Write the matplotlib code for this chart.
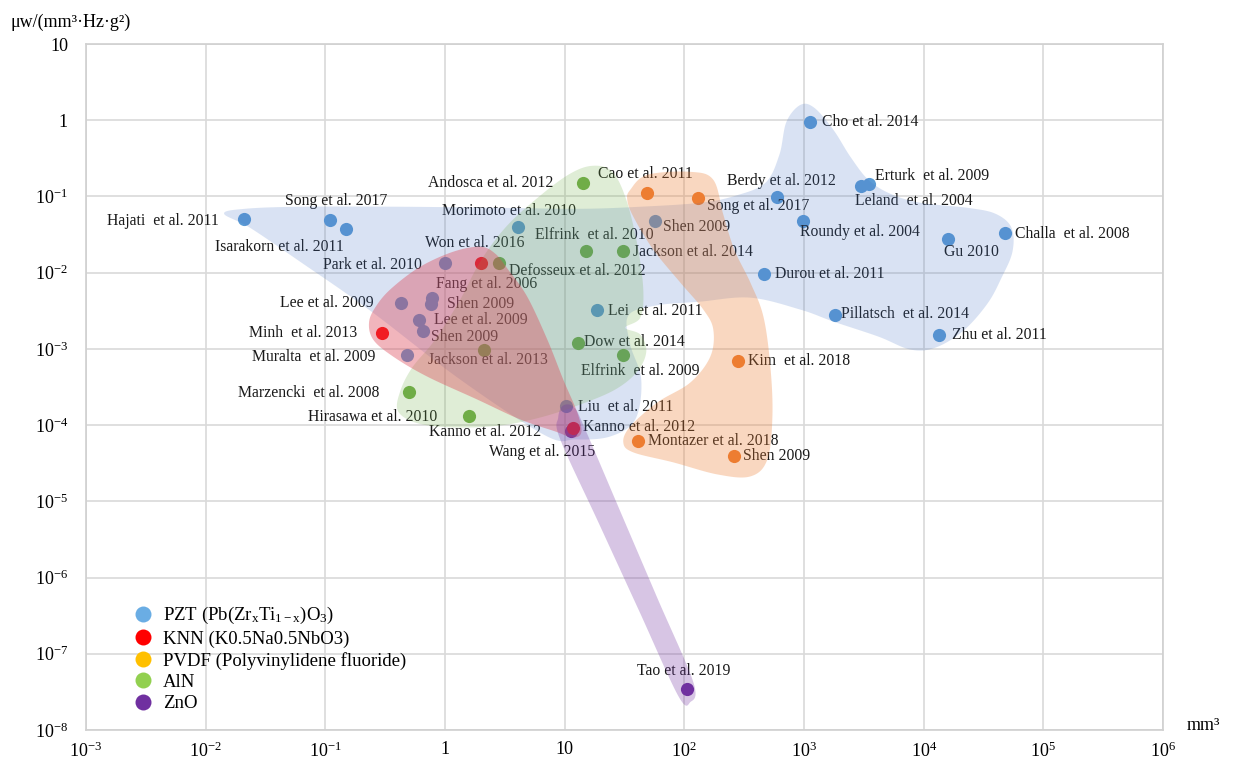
#piezo materials power density vs volume

import numpy as np
import matplotlib
matplotlib.use('Agg')
from matplotlib import pyplot as plt
from matplotlib.lines import Line2D

# --- data: device volume (mm3) and normalised power density ---
pzt_x = [0.021, 0.11, 0.15, 1.0, 0.43, 0.78, 0.77, 0.61, 0.66, 0.48, 4.1, 18.7, 57, 10.3,
         1130, 590, 990, 3000, 3500, 16000, 48000, 460, 1800, 13500]
pzt_y = [0.051, 0.049, 0.037, 0.0135, 0.0040, 0.0046, 0.0039, 0.0024, 0.0017, 0.00082, 0.040, 0.0032, 0.047, 0.00018,
         0.95, 0.099, 0.048, 0.138, 0.147, 0.028, 0.033, 0.0097, 0.0028, 0.0015]
knn_x = [2.0, 0.30, 11.8]
knn_y = [0.0135, 0.0016, 9.3e-5]
pvdf_x = [49, 130, 280, 41, 260]
pvdf_y = [0.11, 0.096, 0.0007, 6.1e-5, 3.9e-5]
aln_x = [14.3, 2.8, 15.2, 31, 13, 31, 2.1, 0.50, 1.6]
aln_y = [0.15, 0.0135, 0.019, 0.019, 0.0012, 0.00084, 0.00098, 0.00027, 0.00013]
zno_x = [11.4, 105]
zno_y = [8.3e-5, 3.5e-8]

# reference labels: text, log10 x, log10 y, alignment
labels = [
    ('Hajati  et al. 2011', -1.888, -1.319, 'right'),
    ('Song et al. 2017', -1.336, -1.057, 'left'),
    ('Isarakorn et al. 2011', -1.921, -1.660, 'left'),
    ('Park et al. 2010', -1.018, -1.895, 'left'),
    ('Won et al. 2016', -0.166, -1.607, 'left'),
    ('Lee et al. 2009', -1.378, -2.393, 'left'),
    ('Shen 2009', 0.018, -2.406, 'left'),
    ('Lee et al. 2009', -0.090, -2.616, 'left'),
    ('Minh  et al. 2013', -1.637, -2.786, 'left'),
    ('Shen 2009', -0.115, -2.839, 'left'),
    ('Muralta  et al. 2009', -1.612, -3.101, 'left'),
    ('Jackson et al. 2013', -0.140, -3.140, 'left'),
    ('Marzencki  et al. 2008', -1.729, -3.585, 'left'),
    ('Hirasawa et al. 2010', -1.144, -3.900, 'left'),
    ('Kanno et al. 2012', -0.132, -4.096, 'left'),
    ('Fang et al. 2006', -0.074, -2.144, 'left'),
    ('Andosca et al. 2012', -0.140, -0.821, 'left'),
    ('Morimoto et al. 2010', -0.023, -1.188, 'left'),
    ('Cao et al. 2011', 1.281, -0.703, 'left'),
    ('Elfrink  et al. 2010', 0.754, -1.502, 'left'),
    ('Shen 2009', 1.824, -1.397, 'left'),
    ('Defosseux et al. 2012', 0.537, -1.974, 'left'),
    ('Jackson et al. 2014', 1.574, -1.725, 'left'),
    ('Lei  et al. 2011', 1.365, -2.498, 'left'),
    ('Dow et al. 2014', 1.164, -2.904, 'left'),
    ('Elfrink  et al. 2009', 1.139, -3.284, 'left'),
    ('Liu  et al. 2011', 1.114, -3.756, 'left'),
    ('Kanno et al. 2012', 1.156, -4.031, 'left'),
    ('Montazer et al. 2018', 1.699, -4.214, 'left'),
    ('Wang et al. 2015', 0.370, -4.358, 'left'),
    ('Shen 2009', 2.493, -4.411, 'left'),
    ('Kim  et al. 2018', 2.535, -3.153, 'left'),
    ('Song et al. 2017', 2.192, -1.122, 'left'),
    ('Berdy et al. 2012', 2.360, -0.795, 'left'),
    ('Cho et al. 2014', 3.148, -0.022, 'left'),
    ('Erturk  et al. 2009', 3.596, -0.729, 'left'),
    ('Leland  et al. 2004', 3.426, -1.057, 'left'),
    ('Roundy et al. 2004', 2.967, -1.463, 'left'),
    ('Gu 2010', 4.169, -1.725, 'left'),
    ('Challa  et al. 2008', 4.764, -1.489, 'left'),
    ('Durou et al. 2011', 2.760, -2.013, 'left'),
    ('Pillatsch  et al. 2014', 3.307, -2.537, 'left'),
    ('Zhu et al. 2011', 4.234, -2.812, 'left'),
    ('Tao et al. 2019', 1.607, -7.227, 'left'),
]

# shaded material zones, outline in (log10 x, log10 y)
pzt_zone = [(-1.846, -1.227), (-1.671, -1.162), (-1.211, -1.135), (-0.375, -1.135), (0.462, -1.149),
            (1.130, -1.162), (1.632, -1.135), (2.134, -1.083), (2.426, -0.991), (2.677, -0.821),
            (2.794, -0.454), (2.853, -0.022), (2.970, 0.201), (3.087, 0.162), (3.246, -0.127),
            (3.388, -0.480), (3.538, -0.782), (3.722, -0.965), (3.973, -1.083), (4.366, -1.149),
            (4.600, -1.227), (4.734, -1.411), (4.742, -1.725), (4.651, -2.066), (4.533, -2.406),
            (4.333, -2.760), (4.099, -2.983), (3.890, -3.009), (3.622, -2.839), (3.246, -2.642),
            (2.970, -2.485), (2.552, -2.328), (2.134, -2.380), (1.758, -2.432), (1.532, -2.563),
            (1.548, -2.943), (1.640, -3.402), (1.590, -3.926), (1.381, -4.149), (1.089, -4.188),
            (0.838, -4.136), (0.127, -3.402), (-0.625, -2.498), (-1.211, -1.856), (-1.629, -1.411)]
aln_zone = [(-0.391, -3.821), (-0.375, -3.559), (-0.274, -3.245), (-0.082, -2.878), (0.127, -2.354),
            (0.294, -1.856), (0.503, -1.411), (0.754, -1.044), (1.030, -0.716), (1.231, -0.598),
            (1.398, -0.677), (1.515, -1.044), (1.607, -1.633), (1.657, -2.223), (1.632, -2.590),
            (1.507, -2.721), (1.632, -2.812), (1.682, -3.035), (1.607, -3.297), (1.423, -3.533),
            (1.130, -3.730), (0.796, -3.900), (0.462, -4.005), (0.085, -4.031), (-0.224, -3.978)]
knn_zone = [(-0.567, -2.419), (-0.441, -2.197), (-0.207, -1.922), (0.069, -1.725), (0.294, -1.660),
            (0.420, -1.751), (0.528, -1.961), (0.687, -2.315), (0.855, -2.878), (0.988, -3.402),
            (1.105, -3.834), (1.139, -4.096), (1.064, -4.162), (0.921, -4.083), (0.629, -3.926),
            (0.269, -3.664), (-0.149, -3.363), (-0.433, -3.101), (-0.600, -2.878), (-0.634, -2.642)]
pvdf_zone = [(1.548, -0.913), (1.691, -0.716), (2.050, -0.677), (2.242, -0.782), (2.326, -1.240),
             (2.418, -1.699), (2.552, -2.131), (2.661, -2.577), (2.719, -3.232), (2.736, -3.887),
             (2.694, -4.450), (2.552, -4.673), (2.276, -4.647), (1.908, -4.489), (1.574, -4.358),
             (1.490, -4.227), (1.548, -4.018), (1.774, -3.703), (2.050, -3.441), (2.217, -3.101),
             (2.242, -2.747), (2.159, -2.485), (1.967, -2.131), (1.741, -1.699), (1.574, -1.266),
             (1.523, -1.044)]
zno_zone = [(0.946, -3.900), (0.988, -3.743), (1.080, -3.769), (1.172, -4.057), (1.473, -5.162),
            (1.774, -6.267), (2.075, -7.372), (2.050, -7.634), (1.950, -7.555), (1.621, -6.433),
            (1.292, -5.310), (0.963, -4.188)]

legend_names = ['PZT (Pb(Zr$_\\mathrm{x}$Ti$_\\mathrm{1-x}$)O$_\\mathrm{3}$)', 'KNN (K0.5Na0.5NbO3)',
                'PVDF (Polyvinylidene fluoride)', 'AlN', 'ZnO']
legend_colors = ['#6aade4', '#ff0000', '#ffc000', '#92d050', '#7030a0']


def smooth(pts, n=24): #closed catmull-rom curve through the outline points
    p = np.array(pts)
    m = len(p)
    t = np.linspace(0, 1, n, endpoint=False)[:, None]
    out = []
    for i in range(m):
        p0, p1, p2, p3 = p[i-1], p[i], p[(i+1) % m], p[(i+2) % m]
        out.append(0.5*(2*p1 + (-p0+p2)*t + (2*p0-5*p1+4*p2-p3)*t**2 + (-p0+3*p1-3*p2+p3)*t**3))
    out = np.vstack(out)
    return 10**out[:, 0], 10**out[:, 1]


plt.rcParams['font.family'] = ['Liberation Serif', 'DejaVu Serif']
plt.rcParams['mathtext.fontset'] = 'custom'
plt.rcParams['mathtext.rm'] = 'Liberation Serif'
plt.rcParams['mathtext.it'] = 'Liberation Serif:italic'

fig = plt.figure(figsize=(12.34, 7.61), dpi=100)
ax = fig.add_axes([86/1234, 1-730/761, 1077/1234, 686/761])
ax.set_xscale('log')
ax.set_yscale('log')
ax.set_xlim(1e-3, 1e6)
ax.set_ylim(1e-8, 10)

ax.set_xticks([10.0**k for k in range(-3, 7)])
ax.set_xticklabels(['10$^{-3}$', '10$^{-2}$', '10$^{-1}$', '1', '10', '10$^{2}$', '10$^{3}$',
                    '10$^{4}$', '10$^{5}$', '10$^{6}$'])
ax.set_yticks([10.0**k for k in range(-8, 2)])
ax.set_yticklabels(['10$^{-8}$', '10$^{-7}$', '10$^{-6}$', '10$^{-5}$', '10$^{-4}$', '10$^{-3}$',
                    '10$^{-2}$', '10$^{-1}$', '1', '10'])
ax.minorticks_off()
ax.tick_params(axis='both', length=0, labelsize=13)
ax.tick_params(axis='x', pad=8)
ax.tick_params(axis='y', pad=13)
ax.grid(True, color='#d9d9d9', lw=1.2)
ax.set_axisbelow(True)
for s in ax.spines.values():
    s.set_color('#d0d0d0')
    s.set_linewidth(1.2)

# points
ax.scatter(pzt_x, pzt_y, s=90, color='#5b9bd5', lw=0, zorder=3)
ax.scatter(pvdf_x, pvdf_y, s=90, color='#ed7d31', lw=0, zorder=3)
ax.scatter(aln_x, aln_y, s=90, color='#70ad47', lw=0, zorder=3)
ax.scatter(zno_x, zno_y, s=90, color='#7030a0', lw=0, zorder=3)
ax.scatter(knn_x, knn_y, s=90, color='#ff0000', lw=0, zorder=3)

for txt, lx, ly, ha in labels:
    ax.text(10**lx, 10**ly, txt, fontsize=11.3, ha=ha, va='center', color='#1a1a1a', zorder=4)

# translucent zones laid over everything
zones = [(pzt_zone, '#4472c4', 0.2), (aln_zone, '#70ad47', 0.22), (knn_zone, '#dc4858', 0.4),
         (pvdf_zone, '#ed7d31', 0.3), (zno_zone, '#7030a0', 0.28)]
for pts, c, a in zones:
    zx, zy = smooth(pts)
    ax.fill(zx, zy, color=c, alpha=a, lw=0, zorder=5)

handles = [Line2D([], [], ls='none', marker='o', ms=11.5, mew=0, color=c) for c in legend_colors]
leg = ax.legend(handles, legend_names, loc='upper left', bbox_to_anchor=(0.0442, 0.182),
                frameon=False, fontsize=13.5, handlelength=1.0, handletextpad=0.55,
                labelspacing=0.22, borderpad=0, borderaxespad=0)
leg.set_zorder(6)

fig.text(10/1234, 1-22/761, 'μw/(mm³·Hz·g²)', fontsize=13, ha='left', va='center')
fig.text(1187/1234, 1-725/761, 'mm³', fontsize=13, ha='left', va='center')

plt.savefig('out.png', dpi=100)
